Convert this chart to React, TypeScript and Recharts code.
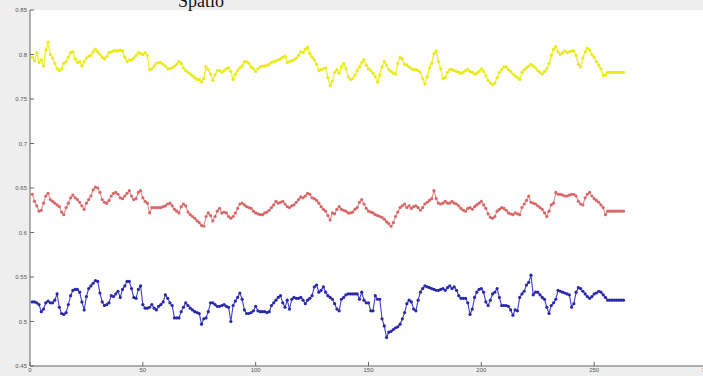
import { LineChart, Line, XAxis, YAxis, CartesianGrid } from 'recharts';

// three traces, sample 1..263
const yellow = [
  0.797, 0.793, 0.802, 0.791, 0.794, 0.787, 0.805, 0.814, 0.800, 0.796,
  0.790, 0.784, 0.782, 0.784, 0.790, 0.792, 0.797, 0.802, 0.803, 0.795,
  0.791, 0.792, 0.787, 0.792, 0.796, 0.798, 0.799, 0.803, 0.806, 0.803,
  0.800, 0.797, 0.795, 0.798, 0.802, 0.803, 0.804, 0.804, 0.804, 0.805,
  0.804, 0.797, 0.792, 0.794, 0.794, 0.796, 0.799, 0.802, 0.801, 0.800,
  0.802, 0.799, 0.783, 0.784, 0.787, 0.790, 0.791, 0.791, 0.789, 0.787,
  0.784, 0.784, 0.785, 0.787, 0.789, 0.792, 0.790, 0.785, 0.782, 0.780,
  0.778, 0.776, 0.774, 0.772, 0.772, 0.769, 0.773, 0.786, 0.783, 0.778,
  0.771, 0.777, 0.782, 0.782, 0.780, 0.782, 0.784, 0.785, 0.781, 0.772,
  0.778, 0.782, 0.785, 0.787, 0.792, 0.792, 0.790, 0.786, 0.784, 0.781,
  0.784, 0.786, 0.787, 0.787, 0.788, 0.789, 0.791, 0.792, 0.793, 0.794,
  0.795, 0.797, 0.798, 0.791, 0.792, 0.793, 0.794, 0.796, 0.799, 0.803,
  0.802, 0.806, 0.808, 0.801, 0.797, 0.794, 0.789, 0.782, 0.783, 0.784,
  0.785, 0.774, 0.765, 0.770, 0.780, 0.783, 0.779, 0.786, 0.790, 0.784,
  0.775, 0.772, 0.773, 0.777, 0.782, 0.786, 0.791, 0.794, 0.788, 0.784,
  0.782, 0.779, 0.775, 0.769, 0.777, 0.786, 0.792, 0.788, 0.783, 0.781,
  0.779, 0.778, 0.790, 0.797, 0.795, 0.789, 0.788, 0.786, 0.784, 0.783,
  0.783, 0.782, 0.780, 0.773, 0.767, 0.775, 0.785, 0.790, 0.801, 0.804,
  0.792, 0.784, 0.773, 0.774, 0.780, 0.783, 0.783, 0.782, 0.781, 0.780,
  0.779, 0.780, 0.782, 0.783, 0.781, 0.780, 0.778, 0.779, 0.781, 0.784,
  0.781, 0.776, 0.771, 0.768, 0.766, 0.768, 0.774, 0.780, 0.783, 0.786,
  0.786, 0.783, 0.781, 0.778, 0.776, 0.774, 0.772, 0.780, 0.783, 0.785,
  0.787, 0.789, 0.787, 0.785, 0.782, 0.780, 0.778, 0.781, 0.784, 0.790,
  0.799, 0.806, 0.809, 0.803, 0.800, 0.802, 0.804, 0.802, 0.803, 0.804,
  0.804, 0.799, 0.789, 0.786, 0.796, 0.803, 0.807, 0.805, 0.800, 0.797,
  0.792, 0.788, 0.784, 0.776, 0.777, 0.780, 0.780, 0.780, 0.780, 0.780,
  0.780, 0.780, 0.780,
];

const red = [
  0.643, 0.635, 0.630, 0.624, 0.625, 0.633, 0.641, 0.644, 0.637, 0.635,
  0.633, 0.631, 0.629, 0.623, 0.620, 0.628, 0.633, 0.639, 0.642, 0.639,
  0.637, 0.634, 0.630, 0.626, 0.633, 0.637, 0.641, 0.648, 0.651, 0.650,
  0.645, 0.637, 0.634, 0.633, 0.636, 0.641, 0.644, 0.645, 0.643, 0.639,
  0.638, 0.641, 0.644, 0.647, 0.641, 0.637, 0.638, 0.645, 0.647, 0.639,
  0.635, 0.633, 0.622, 0.628, 0.628, 0.628, 0.628, 0.628, 0.629, 0.630,
  0.632, 0.633, 0.630, 0.626, 0.624, 0.622, 0.629, 0.632, 0.630, 0.623,
  0.620, 0.618, 0.616, 0.613, 0.611, 0.608, 0.607, 0.618, 0.622, 0.619,
  0.613, 0.618, 0.624, 0.627, 0.622, 0.623, 0.622, 0.618, 0.616, 0.618,
  0.622, 0.627, 0.632, 0.633, 0.631, 0.629, 0.628, 0.627, 0.624, 0.622,
  0.621, 0.620, 0.620, 0.622, 0.623, 0.625, 0.628, 0.631, 0.635, 0.633,
  0.634, 0.635, 0.632, 0.629, 0.628, 0.630, 0.631, 0.634, 0.637, 0.640,
  0.639, 0.641, 0.644, 0.643, 0.639, 0.638, 0.636, 0.633, 0.629, 0.626,
  0.624, 0.619, 0.614, 0.622, 0.621, 0.626, 0.629, 0.626, 0.625, 0.624,
  0.622, 0.622, 0.623, 0.626, 0.628, 0.634, 0.637, 0.632, 0.627, 0.624,
  0.623, 0.622, 0.620, 0.619, 0.618, 0.617, 0.615, 0.612, 0.610, 0.607,
  0.611, 0.618, 0.623, 0.628, 0.630, 0.632, 0.628, 0.630, 0.627, 0.629,
  0.630, 0.628, 0.625, 0.628, 0.632, 0.634, 0.636, 0.638, 0.647, 0.638,
  0.633, 0.632, 0.633, 0.635, 0.633, 0.633, 0.635, 0.633, 0.632, 0.630,
  0.627, 0.625, 0.624, 0.627, 0.628, 0.626, 0.629, 0.631, 0.633, 0.635,
  0.631, 0.627, 0.621, 0.617, 0.616, 0.618, 0.624, 0.626, 0.628, 0.627,
  0.625, 0.622, 0.621, 0.620, 0.622, 0.621, 0.620, 0.628, 0.632, 0.636,
  0.641, 0.634, 0.633, 0.632, 0.630, 0.628, 0.626, 0.622, 0.618, 0.624,
  0.631, 0.633, 0.645, 0.643, 0.643, 0.642, 0.641, 0.641, 0.642, 0.643,
  0.643, 0.641, 0.635, 0.632, 0.631, 0.639, 0.643, 0.645, 0.641, 0.638,
  0.636, 0.634, 0.631, 0.628, 0.620, 0.624, 0.624, 0.624, 0.624, 0.624,
  0.624, 0.624, 0.624,
];

const blue = [
  0.522, 0.522, 0.521, 0.519, 0.511, 0.514, 0.521, 0.523, 0.521, 0.521,
  0.524, 0.531, 0.516, 0.509, 0.508, 0.510, 0.519, 0.529, 0.535, 0.536,
  0.536, 0.533, 0.522, 0.513, 0.528, 0.537, 0.540, 0.543, 0.546, 0.545,
  0.532, 0.522, 0.518, 0.519, 0.521, 0.529, 0.528, 0.531, 0.534, 0.527,
  0.536, 0.540, 0.545, 0.545, 0.537, 0.527, 0.526, 0.536, 0.540, 0.519,
  0.515, 0.515, 0.516, 0.519, 0.515, 0.513, 0.517, 0.519, 0.522, 0.530,
  0.526, 0.521, 0.518, 0.504, 0.504, 0.504, 0.511, 0.516, 0.521, 0.518,
  0.515, 0.513, 0.511, 0.510, 0.509, 0.497, 0.503, 0.504, 0.511, 0.521,
  0.521, 0.519, 0.517, 0.517, 0.518, 0.519, 0.517, 0.516, 0.500, 0.518,
  0.523, 0.527, 0.532, 0.525, 0.513, 0.509, 0.509, 0.510, 0.512, 0.517,
  0.512, 0.511, 0.511, 0.511, 0.510, 0.511, 0.518, 0.521, 0.524, 0.527,
  0.529, 0.521, 0.516, 0.524, 0.514, 0.525, 0.527, 0.526, 0.526, 0.527,
  0.524, 0.520, 0.524, 0.526, 0.529, 0.539, 0.541, 0.533, 0.535, 0.539,
  0.533, 0.529, 0.527, 0.525, 0.520, 0.514, 0.512, 0.525, 0.527, 0.530,
  0.531, 0.531, 0.531, 0.531, 0.531, 0.525, 0.533, 0.524, 0.521, 0.521,
  0.512, 0.512, 0.529, 0.525, 0.525, 0.503, 0.495, 0.482, 0.488, 0.489,
  0.491, 0.493, 0.494, 0.497, 0.503, 0.510, 0.520, 0.524, 0.522, 0.514,
  0.512, 0.524, 0.533, 0.537, 0.540, 0.539, 0.538, 0.537, 0.536, 0.535,
  0.535, 0.536, 0.537, 0.535, 0.538, 0.540, 0.537, 0.539, 0.535, 0.529,
  0.526, 0.526, 0.526, 0.521, 0.508, 0.514, 0.527, 0.533, 0.536, 0.537,
  0.533, 0.522, 0.518, 0.524, 0.531, 0.533, 0.537, 0.527, 0.518, 0.518,
  0.518, 0.517, 0.513, 0.507, 0.513, 0.512, 0.527, 0.531, 0.534, 0.541,
  0.544, 0.552, 0.530, 0.533, 0.533, 0.530, 0.527, 0.525, 0.516, 0.509,
  0.518, 0.521, 0.525, 0.535, 0.534, 0.533, 0.532, 0.531, 0.530, 0.516,
  0.520, 0.533, 0.538, 0.537, 0.534, 0.531, 0.528, 0.526, 0.528, 0.531,
  0.532, 0.534, 0.533, 0.530, 0.527, 0.524, 0.524, 0.524, 0.524, 0.524,
  0.524, 0.524, 0.524,
];

const xTicks = [0, 50, 100, 150, 200, 250, 300];
const yTicks = [0.45, 0.5, 0.55, 0.6, 0.65, 0.7, 0.75, 0.8, 0.85];

const rows = yellow.map((v, i) => ({ n: i + 1, yellow: v, red: red[i], blue: blue[i] }));

const tickStyle = { fontSize: 6, fill: '#555', fontFamily: 'Liberation Sans, Arial, sans-serif' };

export default function App() {
  return (
    <div style={{ position: 'absolute', left: 0, top: 0, width: 703, height: 376, overflow: 'hidden', background: '#eeeeee' }}>
      <style>{'body{margin:0}'}</style>
      <LineChart
        width={720}
        height={376}
        data={rows}
        margin={{ top: 10, right: 13, bottom: 9, left: 29 }}
        style={{ position: 'absolute', left: 0, top: 0 }}
      >
        <CartesianGrid fill="#ffffff" fillOpacity={1} horizontal={false} vertical={false} />
        <XAxis
          dataKey="n"
          type="number"
          domain={[0, 300]}
          ticks={xTicks}
          height={1}
          tickSize={-4}
          tickMargin={6}
          stroke="#666"
          tick={tickStyle}
          interval={0}
        />
        <YAxis
          type="number"
          domain={[0.45, 0.85]}
          ticks={yTicks}
          width={1}
          tickSize={-4}
          tickMargin={7}
          stroke="#666"
          tick={tickStyle}
          interval={0}
          tickFormatter={(v: number) => String(+v.toFixed(2))}
        />
        <Line
          dataKey="yellow"
          stroke="#f2f23c"
          strokeWidth={1.5}
          dot={{ r: 1.6, fill: '#eaea1a', stroke: 'none' }}
          isAnimationActive={false}
        />
        <Line
          dataKey="red"
          stroke="#e58c8c"
          strokeWidth={1.1}
          dot={{ r: 1.6, fill: '#d86868', stroke: 'none' }}
          isAnimationActive={false}
        />
        <Line
          dataKey="blue"
          stroke="#3d3dcc"
          strokeWidth={1.1}
          dot={{ r: 1.6, fill: '#2828a8', stroke: 'none' }}
          isAnimationActive={false}
        />
      </LineChart>
      <div
        style={{
          position: 'absolute',
          left: 178,
          top: -9,
          fontFamily: 'Liberation Serif, serif',
          fontSize: 18,
          color: '#111',
          whiteSpace: 'nowrap',
        }}
      >
        Spatio
      </div>
    </div>
  );
}
